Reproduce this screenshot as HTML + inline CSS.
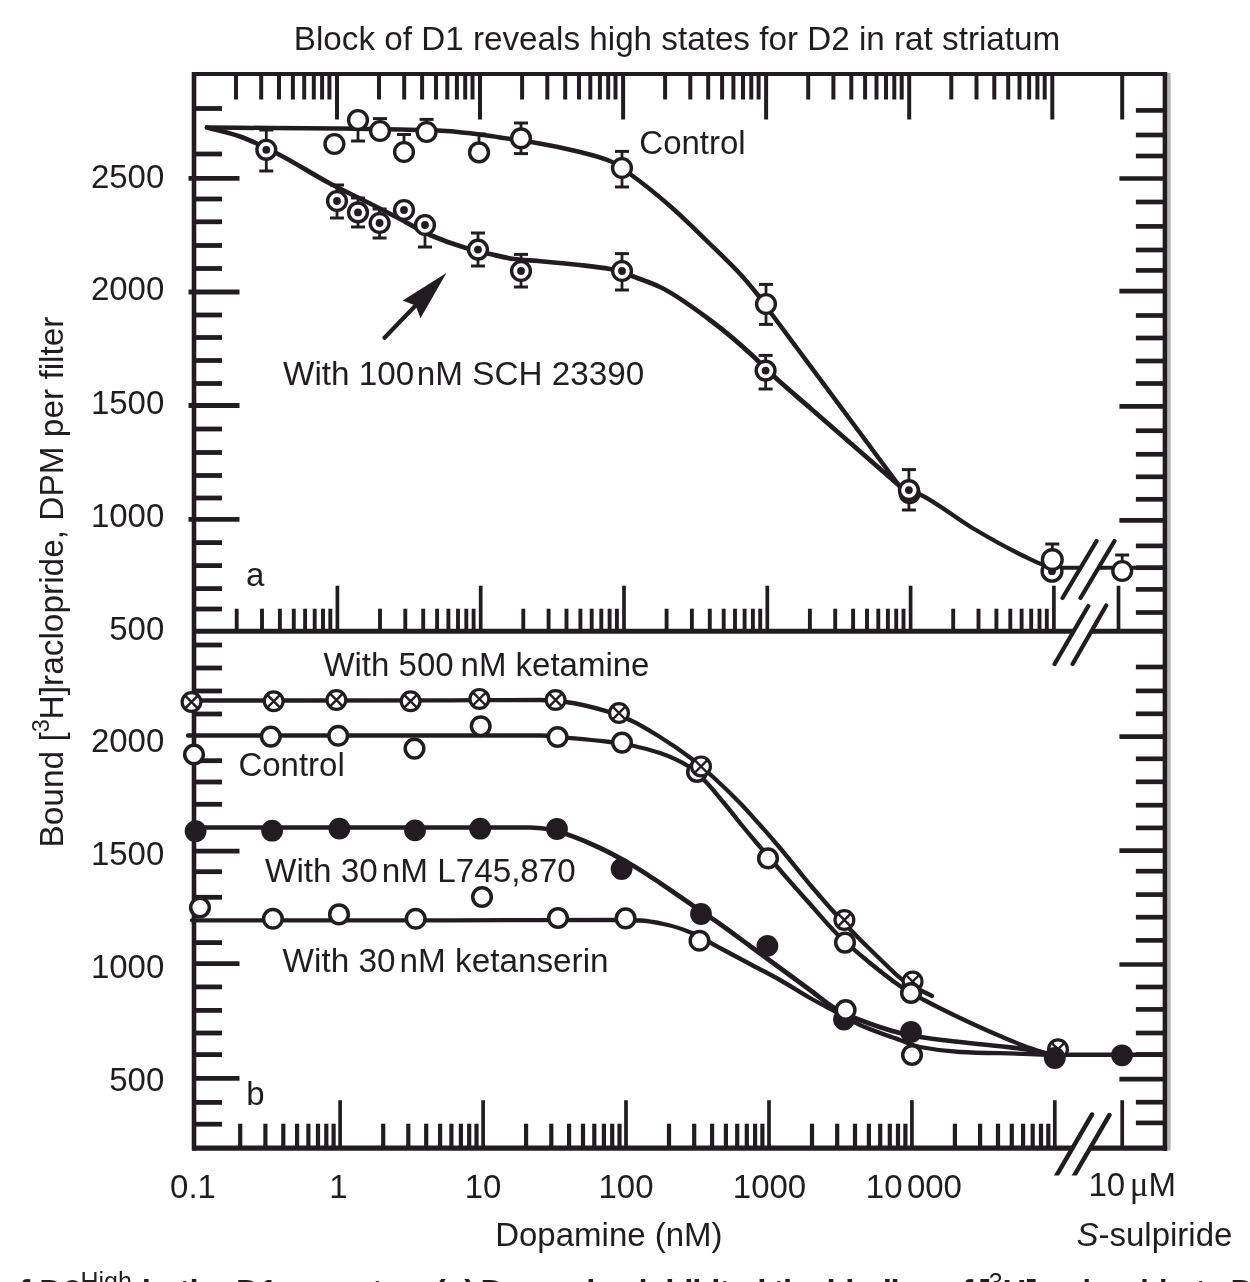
<!DOCTYPE html>
<html><head><meta charset="utf-8"><title>Block of D1 reveals high states for D2 in rat striatum</title>
<style>
html,body{margin:0;padding:0;background:#fff;}
body{width:1250px;height:1282px;overflow:hidden;font-family:"Liberation Sans",sans-serif;}
svg{display:block;}
</style></head>
<body>
<svg width="1250" height="1282" viewBox="0 0 1250 1282">
<defs><filter id="soft" x="0" y="0" width="100%" height="100%" filterUnits="userSpaceOnUse" primitiveUnits="userSpaceOnUse"><feGaussianBlur stdDeviation="0.55"/></filter></defs>
<rect width="1250" height="1282" fill="#fff"/>
<g filter="url(#soft)">
<g stroke="#231f20" fill="none" stroke-linecap="butt">
<path d="M194.0,72.0 V1150.4" stroke-width="4.6"/>
<path d="M1168.8000000000002,73.0 V1150.4" stroke-width="3.6" stroke="#b4b4b4"/>
<path d="M1164.9,72.0 V1150.8" stroke-width="4.5"/>
<path d="M192.0,74.0 H1167.1000000000001" stroke-width="4.2"/>
<path d="M192.0,631.2 H1164.9" stroke-width="4.9"/>
<path d="M192.0,1148.2 H1167.1000000000001" stroke-width="5.3"/>
</g>
<g stroke="#231f20" stroke-width="4.8" stroke-linecap="butt">
<path d="M194.0,108.5 H222.0"/>
<path d="M194.0,154.0 H222.0"/>
<path d="M188.5,178.4 H239.5"/>
<path d="M194.0,199.0 H222.0"/>
<path d="M194.0,221.8 H222.0"/>
<path d="M194.0,245.5 H222.0"/>
<path d="M194.0,268.5 H222.0"/>
<path d="M188.5,292.0 H239.5"/>
<path d="M194.0,315.0 H222.0"/>
<path d="M194.0,337.5 H222.0"/>
<path d="M194.0,360.5 H222.0"/>
<path d="M194.0,383.5 H222.0"/>
<path d="M188.5,405.5 H239.5"/>
<path d="M194.0,429.0 H222.0"/>
<path d="M194.0,452.5 H222.0"/>
<path d="M194.0,475.5 H222.0"/>
<path d="M194.0,498.0 H222.0"/>
<path d="M188.5,519.4 H239.5"/>
<path d="M194.0,542.6 H222.0"/>
<path d="M194.0,565.6 H222.0"/>
<path d="M194.0,588.6 H222.0"/>
<path d="M194.0,609.0 H222.0"/>
<path d="M194.0,645.0 H222.0"/>
<path d="M194.0,668.0 H222.0"/>
<path d="M194.0,691.0 H222.0"/>
<path d="M194.0,714.0 H222.0"/>
<path d="M194.0,760.7 H222.0"/>
<path d="M194.0,782.0 H222.0"/>
<path d="M194.0,804.3 H222.0"/>
<path d="M194.0,851.2 H239.5"/>
<path d="M194.0,871.7 H222.0"/>
<path d="M194.0,897.3 H222.0"/>
<path d="M194.0,942.6 H222.0"/>
<path d="M194.0,963.6 H239.5"/>
<path d="M194.0,986.9 H222.0"/>
<path d="M194.0,1010.4 H222.0"/>
<path d="M194.0,1033.0 H222.0"/>
<path d="M194.0,1054.6 H222.0"/>
<path d="M194.0,1078.4 H239.5"/>
<path d="M194.0,1102.4 H222.0"/>
<path d="M194.0,1124.2 H222.0"/>
</g>
<g stroke="#231f20" stroke-width="4.7" stroke-linecap="butt">
<path d="M1135.9,110.4 H1164.9"/>
<path d="M1135.9,135.0 H1164.9"/>
<path d="M1135.9,156.0 H1164.9"/>
<path d="M1119.4,178.5 H1164.9"/>
<path d="M1135.9,202.0 H1164.9"/>
<path d="M1135.9,226.4 H1164.9"/>
<path d="M1135.9,250.0 H1164.9"/>
<path d="M1135.9,270.4 H1164.9"/>
<path d="M1119.4,291.2 H1164.9"/>
<path d="M1135.9,315.5 H1164.9"/>
<path d="M1135.9,338.0 H1164.9"/>
<path d="M1135.9,361.0 H1164.9"/>
<path d="M1135.9,383.5 H1164.9"/>
<path d="M1119.4,406.4 H1164.9"/>
<path d="M1135.9,430.7 H1164.9"/>
<path d="M1135.9,454.3 H1164.9"/>
<path d="M1135.9,476.8 H1164.9"/>
<path d="M1135.9,499.3 H1164.9"/>
<path d="M1119.4,520.3 H1164.9"/>
<path d="M1135.9,545.9 H1164.9"/>
<path d="M1135.9,567.7 H1164.9"/>
<path d="M1135.9,589.4 H1164.9"/>
<path d="M1135.9,612.5 H1164.9"/>
<path d="M1135.9,667.0 H1164.9"/>
<path d="M1135.9,690.9 H1164.9"/>
<path d="M1135.9,713.8 H1164.9"/>
<path d="M1119.4,736.6 H1164.9"/>
<path d="M1135.9,758.8 H1164.9"/>
<path d="M1135.9,781.8 H1164.9"/>
<path d="M1135.9,805.2 H1164.9"/>
<path d="M1135.9,827.9 H1164.9"/>
<path d="M1119.4,850.6 H1164.9"/>
<path d="M1135.9,871.2 H1164.9"/>
<path d="M1135.9,894.6 H1164.9"/>
<path d="M1135.9,917.2 H1164.9"/>
<path d="M1135.9,940.4 H1164.9"/>
<path d="M1119.4,964.5 H1164.9"/>
<path d="M1135.9,987.0 H1164.9"/>
<path d="M1135.9,1009.4 H1164.9"/>
<path d="M1135.9,1033.0 H1164.9"/>
<path d="M1135.9,1054.4 H1164.9"/>
<path d="M1119.4,1079.2 H1164.9"/>
<path d="M1135.9,1102.2 H1164.9"/>
<path d="M1135.9,1122.9 H1164.9"/>
</g>
<g stroke="#231f20" stroke-linecap="butt">
<path d="M236.0,74.0 V99.5" stroke-width="4.0"/>
<path d="M261.2,74.0 V99.5" stroke-width="4.0"/>
<path d="M279.0,74.0 V99.5" stroke-width="4.0"/>
<path d="M292.9,74.0 V99.5" stroke-width="4.0"/>
<path d="M304.2,74.0 V99.5" stroke-width="4.0"/>
<path d="M313.8,74.0 V99.5" stroke-width="4.0"/>
<path d="M322.1,74.0 V99.5" stroke-width="4.0"/>
<path d="M329.4,74.0 V99.5" stroke-width="4.0"/>
<path d="M337.0,74.0 V119.5" stroke-width="4.0"/>
<path d="M379.0,74.0 V99.5" stroke-width="4.0"/>
<path d="M404.2,74.0 V99.5" stroke-width="4.0"/>
<path d="M422.1,74.0 V99.5" stroke-width="4.0"/>
<path d="M436.0,74.0 V99.5" stroke-width="4.0"/>
<path d="M447.3,74.0 V99.5" stroke-width="4.0"/>
<path d="M456.9,74.0 V99.5" stroke-width="4.0"/>
<path d="M465.2,74.0 V99.5" stroke-width="4.0"/>
<path d="M472.5,74.0 V99.5" stroke-width="4.0"/>
<path d="M480.0,74.0 V119.5" stroke-width="4.0"/>
<path d="M522.1,74.0 V99.5" stroke-width="4.0"/>
<path d="M547.3,74.0 V99.5" stroke-width="4.0"/>
<path d="M565.2,74.0 V99.5" stroke-width="4.0"/>
<path d="M579.0,74.0 V99.5" stroke-width="4.0"/>
<path d="M590.3,74.0 V99.5" stroke-width="4.0"/>
<path d="M599.9,74.0 V99.5" stroke-width="4.0"/>
<path d="M608.2,74.0 V99.5" stroke-width="4.0"/>
<path d="M615.5,74.0 V99.5" stroke-width="4.0"/>
<path d="M623.1,74.0 V119.5" stroke-width="4.0"/>
<path d="M665.1,74.0 V99.5" stroke-width="4.0"/>
<path d="M690.3,74.0 V99.5" stroke-width="4.0"/>
<path d="M708.2,74.0 V99.5" stroke-width="4.0"/>
<path d="M722.1,74.0 V99.5" stroke-width="4.0"/>
<path d="M733.4,74.0 V99.5" stroke-width="4.0"/>
<path d="M743.0,74.0 V99.5" stroke-width="4.0"/>
<path d="M751.3,74.0 V99.5" stroke-width="4.0"/>
<path d="M758.6,74.0 V99.5" stroke-width="4.0"/>
<path d="M766.1,74.0 V119.5" stroke-width="4.0"/>
<path d="M808.2,74.0 V99.5" stroke-width="4.0"/>
<path d="M833.4,74.0 V99.5" stroke-width="4.0"/>
<path d="M851.3,74.0 V99.5" stroke-width="4.0"/>
<path d="M865.1,74.0 V99.5" stroke-width="4.0"/>
<path d="M876.5,74.0 V99.5" stroke-width="4.0"/>
<path d="M886.0,74.0 V99.5" stroke-width="4.0"/>
<path d="M894.3,74.0 V99.5" stroke-width="4.0"/>
<path d="M901.7,74.0 V99.5" stroke-width="4.0"/>
<path d="M909.2,74.0 V119.5" stroke-width="4.0"/>
<path d="M951.3,74.0 V99.5" stroke-width="4.0"/>
<path d="M976.5,74.0 V99.5" stroke-width="4.0"/>
<path d="M994.3,74.0 V99.5" stroke-width="4.0"/>
<path d="M1008.2,74.0 V99.5" stroke-width="4.0"/>
<path d="M1019.5,74.0 V99.5" stroke-width="4.0"/>
<path d="M1029.1,74.0 V99.5" stroke-width="4.0"/>
<path d="M1037.4,74.0 V99.5" stroke-width="4.0"/>
<path d="M1044.7,74.0 V99.5" stroke-width="4.0"/>
<path d="M1052.3,74.0 V119.5" stroke-width="4.0"/>
<path d="M1122.2,74.0 V119.5" stroke-width="4.0"/>
</g>
<g stroke="#231f20" stroke-linecap="butt">
<path d="M236.7,631.2 V608.7" stroke-width="3.9"/>
<path d="M262.0,631.2 V608.7" stroke-width="3.9"/>
<path d="M279.9,631.2 V608.7" stroke-width="3.9"/>
<path d="M293.8,631.2 V608.7" stroke-width="3.9"/>
<path d="M305.1,631.2 V608.7" stroke-width="3.9"/>
<path d="M314.7,631.2 V608.7" stroke-width="3.9"/>
<path d="M323.0,631.2 V608.7" stroke-width="3.9"/>
<path d="M330.3,631.2 V608.7" stroke-width="3.9"/>
<path d="M337.4,631.2 V585.7" stroke-width="3.7"/>
<path d="M380.0,631.2 V608.7" stroke-width="3.9"/>
<path d="M405.3,631.2 V608.7" stroke-width="3.9"/>
<path d="M423.2,631.2 V608.7" stroke-width="3.9"/>
<path d="M437.1,631.2 V608.7" stroke-width="3.9"/>
<path d="M448.4,631.2 V608.7" stroke-width="3.9"/>
<path d="M458.0,631.2 V608.7" stroke-width="3.9"/>
<path d="M466.3,631.2 V608.7" stroke-width="3.9"/>
<path d="M473.6,631.2 V608.7" stroke-width="3.9"/>
<path d="M480.7,631.2 V585.7" stroke-width="3.7"/>
<path d="M523.3,631.2 V608.7" stroke-width="3.9"/>
<path d="M548.6,631.2 V608.7" stroke-width="3.9"/>
<path d="M566.5,631.2 V608.7" stroke-width="3.9"/>
<path d="M580.4,631.2 V608.7" stroke-width="3.9"/>
<path d="M591.7,631.2 V608.7" stroke-width="3.9"/>
<path d="M601.3,631.2 V608.7" stroke-width="3.9"/>
<path d="M609.6,631.2 V608.7" stroke-width="3.9"/>
<path d="M616.9,631.2 V608.7" stroke-width="3.9"/>
<path d="M624.0,631.2 V585.7" stroke-width="3.7"/>
<path d="M666.6,631.2 V608.7" stroke-width="3.9"/>
<path d="M691.9,631.2 V608.7" stroke-width="3.9"/>
<path d="M709.8,631.2 V608.7" stroke-width="3.9"/>
<path d="M723.7,631.2 V608.7" stroke-width="3.9"/>
<path d="M735.0,631.2 V608.7" stroke-width="3.9"/>
<path d="M744.6,631.2 V608.7" stroke-width="3.9"/>
<path d="M752.9,631.2 V608.7" stroke-width="3.9"/>
<path d="M760.2,631.2 V608.7" stroke-width="3.9"/>
<path d="M767.3,631.2 V585.7" stroke-width="3.7"/>
<path d="M809.9,631.2 V608.7" stroke-width="3.9"/>
<path d="M835.2,631.2 V608.7" stroke-width="3.9"/>
<path d="M853.1,631.2 V608.7" stroke-width="3.9"/>
<path d="M867.0,631.2 V608.7" stroke-width="3.9"/>
<path d="M878.3,631.2 V608.7" stroke-width="3.9"/>
<path d="M887.9,631.2 V608.7" stroke-width="3.9"/>
<path d="M896.2,631.2 V608.7" stroke-width="3.9"/>
<path d="M903.5,631.2 V608.7" stroke-width="3.9"/>
<path d="M910.6,631.2 V585.7" stroke-width="3.7"/>
<path d="M953.2,631.2 V608.7" stroke-width="3.9"/>
<path d="M978.5,631.2 V608.7" stroke-width="3.9"/>
<path d="M996.4,631.2 V608.7" stroke-width="3.9"/>
<path d="M1010.3,631.2 V608.7" stroke-width="3.9"/>
<path d="M1021.6,631.2 V608.7" stroke-width="3.9"/>
<path d="M1031.2,631.2 V608.7" stroke-width="3.9"/>
<path d="M1039.5,631.2 V608.7" stroke-width="3.9"/>
<path d="M1046.8,631.2 V608.7" stroke-width="3.9"/>
<path d="M1053.9,631.2 V585.7" stroke-width="3.7"/>
<path d="M1118.5,631.2 V585.7" stroke-width="3.7"/>
</g>
<g stroke="#231f20" stroke-linecap="butt">
<path d="M240.2,1148.2 V1123.7" stroke-width="4.2"/>
<path d="M265.4,1148.2 V1123.7" stroke-width="4.2"/>
<path d="M283.3,1148.2 V1123.7" stroke-width="4.2"/>
<path d="M297.1,1148.2 V1123.7" stroke-width="4.2"/>
<path d="M308.4,1148.2 V1123.7" stroke-width="4.2"/>
<path d="M318.0,1148.2 V1123.7" stroke-width="4.2"/>
<path d="M326.3,1148.2 V1123.7" stroke-width="4.2"/>
<path d="M333.6,1148.2 V1123.7" stroke-width="4.2"/>
<path d="M340.1,1148.2 V1100.2" stroke-width="3.7"/>
<path d="M383.2,1148.2 V1123.7" stroke-width="4.2"/>
<path d="M408.3,1148.2 V1123.7" stroke-width="4.2"/>
<path d="M426.2,1148.2 V1123.7" stroke-width="4.2"/>
<path d="M440.1,1148.2 V1123.7" stroke-width="4.2"/>
<path d="M451.4,1148.2 V1123.7" stroke-width="4.2"/>
<path d="M460.9,1148.2 V1123.7" stroke-width="4.2"/>
<path d="M469.2,1148.2 V1123.7" stroke-width="4.2"/>
<path d="M476.5,1148.2 V1123.7" stroke-width="4.2"/>
<path d="M483.1,1148.2 V1100.2" stroke-width="3.7"/>
<path d="M526.1,1148.2 V1123.7" stroke-width="4.2"/>
<path d="M551.3,1148.2 V1123.7" stroke-width="4.2"/>
<path d="M569.1,1148.2 V1123.7" stroke-width="4.2"/>
<path d="M583.0,1148.2 V1123.7" stroke-width="4.2"/>
<path d="M594.3,1148.2 V1123.7" stroke-width="4.2"/>
<path d="M603.9,1148.2 V1123.7" stroke-width="4.2"/>
<path d="M612.2,1148.2 V1123.7" stroke-width="4.2"/>
<path d="M619.5,1148.2 V1123.7" stroke-width="4.2"/>
<path d="M626.0,1148.2 V1100.2" stroke-width="3.7"/>
<path d="M669.0,1148.2 V1123.7" stroke-width="4.2"/>
<path d="M694.2,1148.2 V1123.7" stroke-width="4.2"/>
<path d="M712.1,1148.2 V1123.7" stroke-width="4.2"/>
<path d="M725.9,1148.2 V1123.7" stroke-width="4.2"/>
<path d="M737.2,1148.2 V1123.7" stroke-width="4.2"/>
<path d="M746.8,1148.2 V1123.7" stroke-width="4.2"/>
<path d="M755.1,1148.2 V1123.7" stroke-width="4.2"/>
<path d="M762.4,1148.2 V1123.7" stroke-width="4.2"/>
<path d="M769.0,1148.2 V1100.2" stroke-width="3.7"/>
<path d="M812.0,1148.2 V1123.7" stroke-width="4.2"/>
<path d="M837.2,1148.2 V1123.7" stroke-width="4.2"/>
<path d="M855.0,1148.2 V1123.7" stroke-width="4.2"/>
<path d="M868.9,1148.2 V1123.7" stroke-width="4.2"/>
<path d="M880.2,1148.2 V1123.7" stroke-width="4.2"/>
<path d="M889.8,1148.2 V1123.7" stroke-width="4.2"/>
<path d="M898.0,1148.2 V1123.7" stroke-width="4.2"/>
<path d="M905.4,1148.2 V1123.7" stroke-width="4.2"/>
<path d="M911.9,1148.2 V1100.2" stroke-width="3.7"/>
<path d="M954.9,1148.2 V1123.7" stroke-width="4.2"/>
<path d="M980.1,1148.2 V1123.7" stroke-width="4.2"/>
<path d="M998.0,1148.2 V1123.7" stroke-width="4.2"/>
<path d="M1011.8,1148.2 V1123.7" stroke-width="4.2"/>
<path d="M1023.1,1148.2 V1123.7" stroke-width="4.2"/>
<path d="M1032.7,1148.2 V1123.7" stroke-width="4.2"/>
<path d="M1041.0,1148.2 V1123.7" stroke-width="4.2"/>
<path d="M1048.3,1148.2 V1123.7" stroke-width="4.2"/>
<path d="M1054.8,1148.2 V1100.2" stroke-width="3.7"/>
<path d="M1122.2,1148.2 V1100.2" stroke-width="3.7"/>
</g>
<g font-family="Liberation Sans, sans-serif" font-size="33" fill="#231f20">
<text x="677" y="50" text-anchor="middle" textLength="766.5" lengthAdjust="spacingAndGlyphs">Block of D1 reveals high states for D2 in rat striatum</text>
<text x="164.3" y="187.6" text-anchor="end" >2500</text>
<text x="164.3" y="300.2" text-anchor="end" >2000</text>
<text x="164.3" y="413.7" text-anchor="end" >1500</text>
<text x="164.3" y="527.2" text-anchor="end" >1000</text>
<text x="164.3" y="640.0" text-anchor="end" >500</text>
<text x="164.3" y="751.8" text-anchor="end" >2000</text>
<text x="164.3" y="864.6" text-anchor="end" >1500</text>
<text x="164.3" y="978.0" text-anchor="end" >1000</text>
<text x="164.3" y="1090.6" text-anchor="end" >500</text>
<text x="193" y="1198" text-anchor="middle" >0.1</text>
<text x="338.5" y="1198" text-anchor="middle" >1</text>
<text x="483" y="1198" text-anchor="middle" >10</text>
<text x="626" y="1198" text-anchor="middle" >100</text>
<text x="769.5" y="1198" text-anchor="middle" >1000</text>
<text x="865.8" y="1198" text-anchor="start" >10<tspan dx="4.4">000</tspan></text>
<text x="1088.5" y="1196" text-anchor="start" >10<tspan dx="4.5" font-family="Liberation Serif, serif" font-size="35">&#956;</tspan>M</text>
<text x="495.2" y="1246.2" text-anchor="start" >Dopamine (nM)</text>
<text x="1076.5" y="1246.2" text-anchor="start" ><tspan font-style="italic">S</tspan>-sulpiride</text>
<text x="639.3" y="154.3" text-anchor="start" >Control</text>
<text x="283.0" y="384.5" text-anchor="start" font-size="33.25">With 100<tspan dx="2.6">nM SCH 23390</tspan></text>
<text x="246.0" y="586" text-anchor="start" >a</text>
<text x="323.4" y="675.8" text-anchor="start" >With 500<tspan dx="6.9">nM ketamine</tspan></text>
<text x="238.4" y="776" text-anchor="start" >Control</text>
<text x="265.0" y="881.9" text-anchor="start" font-size="33.25">With 30<tspan dx="4.0">nM L745,870</tspan></text>
<text x="282.6" y="972.2" text-anchor="start" font-size="33.3">With 30<tspan dx="4.0">nM ketanserin</tspan></text>
<text x="246.3" y="1104.5" text-anchor="start" >b</text>
<text transform="translate(62.6,847.5) rotate(-90)" textLength="531" lengthAdjust="spacingAndGlyphs">Bound [<tspan font-size="23" dy="-14">3</tspan><tspan dy="14">H]raclopride, DPM per filter</tspan></text>
<text x="-1.0" y="1303.2" font-weight="bold" font-size="33" >of D2</text>
<text x="80.4" y="1290.0" font-size="25">High</text>
<text x="141.8" y="1303.2" font-weight="bold" font-size="33" textLength="280" lengthAdjust="spacing" >in the D1 receptor.</text>
<text x="434.8" y="1303.2" font-weight="bold" font-size="33" >(a)</text>
<text x="480.4" y="1303.2" font-weight="bold" font-size="33" textLength="286" lengthAdjust="spacing" >Dopamine inhibited</text>
<text x="773.3" y="1303.2" font-weight="bold" font-size="33" textLength="200" lengthAdjust="spacing" >the binding of</text>
<text x="978.6" y="1303.2" font-weight="bold" font-size="33" >[</text>
<text x="988.8" y="1290.6" font-size="25">3</text>
<text x="1002.6" y="1303.2" font-weight="bold" font-size="33" >H]</text>
<text x="1036.5" y="1303.2" font-weight="bold" font-size="33" textLength="148" lengthAdjust="spacingAndGlyphs">raclopride</text>
<text x="1194.9" y="1303.2" font-weight="bold" font-size="33" >to</text>
<text x="1230.6" y="1303.2" font-weight="bold" font-size="33" >D2</text>
</g>
<path d="M207.0,127.5 C228.0,127.7 249.0,127.8 270.0,128.0 C293.3,128.2 316.7,128.3 340.0,128.5 C360.0,128.7 380.0,129.1 400.0,129.5 C412.7,129.8 425.3,130.0 438.0,130.5 C453.3,131.1 468.7,133.1 484.0,135.0 C492.7,136.1 501.3,137.7 510.0,139.0 C518.0,140.2 526.0,141.2 534.0,142.5 C549.3,145.1 564.7,148.2 580.0,152.0 C590.0,154.5 600.0,156.8 610.0,161.0 C616.7,163.8 623.3,169.3 630.0,174.0 C643.3,183.5 656.7,194.4 670.0,206.0 C683.3,217.6 696.7,231.0 710.0,244.0 C720.7,254.4 731.3,264.3 742.0,276.0 C750.0,284.8 758.0,295.3 766.0,305.0" fill="none" stroke="#231f20" stroke-width="4.5" stroke-linecap="round" stroke-linejoin="round"/>
<path d="M768,309 L902,489.5" stroke="#231f20" stroke-width="4.5" stroke-linecap="round" fill="none"/>
<path d="M207.0,127.5 C218.0,130.5 229.0,132.8 240.0,136.5 C252.7,140.8 265.3,147.6 278.0,154.0 C295.3,162.8 312.7,174.3 330.0,183.5 C343.3,190.6 356.7,196.7 370.0,203.5 C380.0,208.6 390.0,213.8 400.0,219.0 C410.0,224.2 420.0,230.7 430.0,235.0 C442.0,240.2 454.0,244.5 466.0,248.0 C474.0,250.3 482.0,252.2 490.0,254.0 C498.0,255.8 506.0,258.0 514.0,259.0 C522.0,260.0 530.0,260.3 538.0,261.0 C552.0,262.2 566.0,263.4 580.0,265.0 C590.0,266.1 600.0,267.1 610.0,269.0 C620.0,270.9 630.0,275.3 640.0,279.0 C646.7,281.4 653.3,283.8 660.0,287.0 C676.7,295.0 693.3,307.6 710.0,320.0 C724.7,330.9 739.3,343.4 754.0,357.0 C758.0,360.7 762.0,365.2 766.0,369.0 C770.0,372.8 774.0,376.4 778.0,380.0 C788.3,389.3 798.7,398.0 809.0,407.0 C819.3,416.0 829.7,425.0 840.0,434.0 C850.3,443.0 860.7,452.0 871.0,461.0 C881.3,470.0 891.7,479.0 902.0,488.0" fill="none" stroke="#231f20" stroke-width="4.7" stroke-linecap="round" stroke-linejoin="round"/>
<path d="M909.0,490.0 C913.0,491.7 917.0,493.1 921.0,495.0 C938.1,503.3 955.3,517.9 972.4,528.0 C989.5,538.1 1006.5,547.8 1023.6,556.0 C1030.4,559.3 1037.2,563.0 1044.0,565.0 C1048.0,566.2 1052.0,566.8 1056.0,567.7" fill="none" stroke="#231f20" stroke-width="4.3" stroke-linecap="round" stroke-linejoin="round"/>
<path d="M1050,567.7 H1165" stroke="#231f20" stroke-width="4.0" fill="none"/>
<path d="M358,120 V141" stroke="#231f20" stroke-width="2.8" fill="none"/>
<path d="M351,141 H365" stroke="#231f20" stroke-width="3.0" fill="none"/>
<path d="M380,118.6 V131" stroke="#231f20" stroke-width="2.8" fill="none"/>
<path d="M373,118.6 H387" stroke="#231f20" stroke-width="3.0" fill="none"/>
<path d="M404,134.5 V152" stroke="#231f20" stroke-width="2.8" fill="none"/>
<path d="M397,134.5 H411" stroke="#231f20" stroke-width="3.0" fill="none"/>
<path d="M426.6,119.4 V132" stroke="#231f20" stroke-width="2.8" fill="none"/>
<path d="M419.6,119.4 H433.6" stroke="#231f20" stroke-width="3.0" fill="none"/>
<path d="M479,134 V152.4" stroke="#231f20" stroke-width="2.8" fill="none"/>
<path d="M472,134 H486" stroke="#231f20" stroke-width="3.0" fill="none"/>
<path d="M521,123 V153.6" stroke="#231f20" stroke-width="2.8" fill="none"/>
<path d="M514,123 H528" stroke="#231f20" stroke-width="3.0" fill="none"/>
<path d="M514,153.6 H528" stroke="#231f20" stroke-width="3.0" fill="none"/>
<path d="M622,151.4 V187" stroke="#231f20" stroke-width="2.8" fill="none"/>
<path d="M615,151.4 H629" stroke="#231f20" stroke-width="3.0" fill="none"/>
<path d="M615,187 H629" stroke="#231f20" stroke-width="3.0" fill="none"/>
<path d="M766,284.4 V324.4" stroke="#231f20" stroke-width="2.8" fill="none"/>
<path d="M759,284.4 H773" stroke="#231f20" stroke-width="3.0" fill="none"/>
<path d="M759,324.4 H773" stroke="#231f20" stroke-width="3.0" fill="none"/>
<path d="M1052.3,544.0 V559.6" stroke="#231f20" stroke-width="2.8" fill="none"/>
<path d="M1045.3,544.0 H1059.3" stroke="#231f20" stroke-width="3.0" fill="none"/>
<path d="M1122.2,555 V571" stroke="#231f20" stroke-width="2.8" fill="none"/>
<path d="M1115.2,555 H1129.2" stroke="#231f20" stroke-width="3.0" fill="none"/>
<path d="M266.3,130 V171" stroke="#231f20" stroke-width="2.8" fill="none"/>
<path d="M259.3,130 H273.3" stroke="#231f20" stroke-width="3.0" fill="none"/>
<path d="M259.3,171 H273.3" stroke="#231f20" stroke-width="3.0" fill="none"/>
<path d="M337,185 V218" stroke="#231f20" stroke-width="2.8" fill="none"/>
<path d="M330,185 H344" stroke="#231f20" stroke-width="3.0" fill="none"/>
<path d="M330,218 H344" stroke="#231f20" stroke-width="3.0" fill="none"/>
<path d="M358,198 V227" stroke="#231f20" stroke-width="2.8" fill="none"/>
<path d="M351,198 H365" stroke="#231f20" stroke-width="3.0" fill="none"/>
<path d="M351,227 H365" stroke="#231f20" stroke-width="3.0" fill="none"/>
<path d="M379.6,209 V238" stroke="#231f20" stroke-width="2.8" fill="none"/>
<path d="M372.6,209 H386.6" stroke="#231f20" stroke-width="3.0" fill="none"/>
<path d="M372.6,238 H386.6" stroke="#231f20" stroke-width="3.0" fill="none"/>
<path d="M425,225 V247" stroke="#231f20" stroke-width="2.8" fill="none"/>
<path d="M418,247 H432" stroke="#231f20" stroke-width="3.0" fill="none"/>
<path d="M478,233 V266" stroke="#231f20" stroke-width="2.8" fill="none"/>
<path d="M471,233 H485" stroke="#231f20" stroke-width="3.0" fill="none"/>
<path d="M471,266 H485" stroke="#231f20" stroke-width="3.0" fill="none"/>
<path d="M521,254.4 V287" stroke="#231f20" stroke-width="2.8" fill="none"/>
<path d="M514,254.4 H528" stroke="#231f20" stroke-width="3.0" fill="none"/>
<path d="M514,287 H528" stroke="#231f20" stroke-width="3.0" fill="none"/>
<path d="M622,253.6 V290" stroke="#231f20" stroke-width="2.8" fill="none"/>
<path d="M615,253.6 H629" stroke="#231f20" stroke-width="3.0" fill="none"/>
<path d="M615,290 H629" stroke="#231f20" stroke-width="3.0" fill="none"/>
<path d="M765.6,355.4 V389" stroke="#231f20" stroke-width="2.8" fill="none"/>
<path d="M758.6,355.4 H772.6" stroke="#231f20" stroke-width="3.0" fill="none"/>
<path d="M758.6,389 H772.6" stroke="#231f20" stroke-width="3.0" fill="none"/>
<path d="M908.9,469.6 V510" stroke="#231f20" stroke-width="2.8" fill="none"/>
<path d="M901.9,469.6 H915.9" stroke="#231f20" stroke-width="3.0" fill="none"/>
<path d="M901.9,510 H915.9" stroke="#231f20" stroke-width="3.0" fill="none"/>
<circle cx="909.6" cy="493.2" r="9.4" fill="#fff" stroke="#231f20" stroke-width="3.4"/>
<circle cx="1052.0" cy="571.2" r="9.9" fill="#fff" stroke="#231f20" stroke-width="3.4"/>
<circle cx="1052.0" cy="571.2" r="3.9" fill="#231f20"/>
<circle cx="334.4" cy="144" r="9.4" fill="#fff" stroke="#231f20" stroke-width="3.4"/>
<circle cx="358" cy="120" r="9.4" fill="#fff" stroke="#231f20" stroke-width="3.4"/>
<circle cx="380" cy="131" r="9.4" fill="#fff" stroke="#231f20" stroke-width="3.4"/>
<circle cx="404" cy="152" r="9.4" fill="#fff" stroke="#231f20" stroke-width="3.4"/>
<circle cx="426.6" cy="132" r="9.4" fill="#fff" stroke="#231f20" stroke-width="3.4"/>
<circle cx="479" cy="152.4" r="9.4" fill="#fff" stroke="#231f20" stroke-width="3.4"/>
<circle cx="521" cy="138.4" r="9.4" fill="#fff" stroke="#231f20" stroke-width="3.4"/>
<circle cx="622" cy="168" r="9.4" fill="#fff" stroke="#231f20" stroke-width="3.4"/>
<circle cx="766" cy="304" r="9.4" fill="#fff" stroke="#231f20" stroke-width="3.4"/>
<circle cx="1052.3" cy="559.6" r="9.9" fill="#fff" stroke="#231f20" stroke-width="3.4"/>
<circle cx="1122.2" cy="571" r="9.4" fill="#fff" stroke="#231f20" stroke-width="3.4"/>
<circle cx="266.3" cy="149.8" r="9.4" fill="#fff" stroke="#231f20" stroke-width="3.4"/>
<circle cx="266.3" cy="149.8" r="3.9" fill="#231f20"/>
<circle cx="337" cy="201" r="9.4" fill="#fff" stroke="#231f20" stroke-width="3.4"/>
<circle cx="337" cy="201" r="3.9" fill="#231f20"/>
<circle cx="358" cy="212.4" r="9.4" fill="#fff" stroke="#231f20" stroke-width="3.4"/>
<circle cx="358" cy="212.4" r="3.9" fill="#231f20"/>
<circle cx="379.6" cy="223" r="9.4" fill="#fff" stroke="#231f20" stroke-width="3.4"/>
<circle cx="379.6" cy="223" r="3.9" fill="#231f20"/>
<circle cx="404" cy="210" r="9.4" fill="#fff" stroke="#231f20" stroke-width="3.4"/>
<circle cx="404" cy="210" r="3.9" fill="#231f20"/>
<circle cx="425" cy="225" r="9.4" fill="#fff" stroke="#231f20" stroke-width="3.4"/>
<circle cx="425" cy="225" r="3.9" fill="#231f20"/>
<circle cx="478" cy="249.6" r="9.4" fill="#fff" stroke="#231f20" stroke-width="3.4"/>
<circle cx="478" cy="249.6" r="3.9" fill="#231f20"/>
<circle cx="521" cy="271" r="9.4" fill="#fff" stroke="#231f20" stroke-width="3.4"/>
<circle cx="521" cy="271" r="3.9" fill="#231f20"/>
<circle cx="622" cy="271" r="9.4" fill="#fff" stroke="#231f20" stroke-width="3.4"/>
<circle cx="622" cy="271" r="3.9" fill="#231f20"/>
<circle cx="765.6" cy="370.6" r="9.4" fill="#fff" stroke="#231f20" stroke-width="3.4"/>
<circle cx="765.6" cy="370.6" r="3.9" fill="#231f20"/>
<circle cx="908.9" cy="490.1" r="9.4" fill="#fff" stroke="#231f20" stroke-width="3.4"/>
<circle cx="908.9" cy="490.1" r="3.9" fill="#231f20"/>
<path d="M384.5,337.8 L418,303" stroke="#231f20" stroke-width="4.2" stroke-linecap="round" fill="none"/>
<path d="M446.4,273 L402.7,300.4 L415.5,305.5 L420.5,318.2 Z" fill="#231f20"/>
<path d="M1084.5,560 L1102.5,560 L1093.5,575 L1075.5,575 Z" fill="#fff"/>
<path d="M1076.5,624 L1094.5,624 L1085.5,639 L1067.5,639 Z" fill="#fff"/>
<g stroke="#231f20" stroke-width="4.3" stroke-linecap="round" fill="none">
<path d="M1096.6,541 L1062.5,598"/><path d="M1114.5,541 L1080.5,598"/>
<path d="M1088.3,606 L1054.6,664"/><path d="M1106.2,605.5 L1072.6,664"/>
</g>
<path d="M188.0,700.5 C225.3,700.5 262.7,700.5 300.0,700.5 C350.0,700.5 400.0,700.4 450.0,700.3 C480.0,700.2 510.0,700.0 540.0,700.0 C548.7,700.0 557.3,701.0 566.0,702.0 C580.0,703.6 594.0,707.5 608.0,711.6 C615.3,713.8 622.7,716.7 630.0,720.0 C640.0,724.5 650.0,730.8 660.0,737.0 C670.7,743.6 681.3,750.8 692.0,759.0 C698.7,764.1 705.3,770.0 712.0,776.0 C721.3,784.4 730.7,793.4 740.0,803.0 C746.7,809.9 753.3,817.5 760.0,825.0 C766.7,832.5 773.3,840.1 780.0,848.0 C790.7,860.6 801.3,874.5 812.0,887.0 C822.7,899.5 833.3,911.7 844.0,923.0 C856.0,935.7 868.0,947.6 880.0,959.0 C888.0,966.6 896.0,975.6 904.0,981.0 C913.3,987.4 922.7,991.0 932.0,996.0" fill="none" stroke="#231f20" stroke-width="4.3" stroke-linecap="round" stroke-linejoin="round"/>
<path d="M188.0,735.5 C225.3,735.5 262.7,735.5 300.0,735.5 C350.0,735.5 400.0,735.5 450.0,735.5 C480.0,735.5 510.0,735.5 540.0,735.5 C548.7,735.5 557.3,736.8 566.0,737.6 C580.7,738.9 595.3,740.1 610.0,742.0 C618.0,743.0 626.0,744.4 634.0,746.0 C642.7,747.8 651.3,750.1 660.0,753.0 C669.3,756.2 678.7,760.2 688.0,766.0 C694.0,769.7 700.0,775.9 706.0,782.0 C712.0,788.1 718.0,795.8 724.0,803.0 C729.3,809.4 734.7,816.5 740.0,823.0 C745.0,829.1 750.0,835.1 755.0,841.0 C759.3,846.1 763.7,851.0 768.0,856.0 C772.0,860.6 776.0,865.4 780.0,870.0 C790.0,881.5 800.0,892.8 810.0,904.0 C818.7,913.7 827.3,924.4 836.0,933.0 C847.3,944.2 858.7,953.7 870.0,963.0 C880.0,971.2 890.0,979.1 900.0,986.0 C903.7,988.5 907.3,990.9 911.0,993.0 C915.3,995.5 919.7,997.7 924.0,1000.0 C936.0,1006.3 948.0,1012.3 960.0,1018.0 C973.3,1024.3 986.7,1030.4 1000.0,1036.0 C1010.0,1040.2 1020.0,1044.5 1030.0,1048.0 C1037.3,1050.6 1044.7,1052.7 1052.0,1055.0" fill="none" stroke="#231f20" stroke-width="4.3" stroke-linecap="round" stroke-linejoin="round"/>
<path d="M188.0,827.5 C225.3,827.5 262.7,827.5 300.0,827.5 C350.0,827.5 400.0,827.5 450.0,827.5 C476.7,827.5 503.3,827.5 530.0,827.5 C536.7,827.5 543.3,828.5 550.0,829.5 C555.3,830.3 560.7,832.3 566.0,834.0 C577.3,837.7 588.7,842.7 600.0,848.0 C610.7,853.0 621.3,858.8 632.0,865.0 C641.3,870.4 650.7,876.8 660.0,883.0 C670.7,890.1 681.3,897.7 692.0,905.0 C701.3,911.4 710.7,917.4 720.0,924.0 C730.0,931.0 740.0,938.7 750.0,946.0 C760.0,953.3 770.0,960.7 780.0,968.0 C790.0,975.3 800.0,982.7 810.0,990.0 C818.7,996.3 827.3,1004.1 836.0,1009.0 C844.0,1013.5 852.0,1016.9 860.0,1020.0 C873.3,1025.1 886.7,1029.8 900.0,1033.0 C906.7,1034.6 913.3,1035.9 920.0,1037.0 C933.3,1039.1 946.7,1040.4 960.0,1042.0 C983.3,1044.8 1006.7,1046.2 1030.0,1050.0 C1037.3,1051.2 1044.7,1053.3 1052.0,1055.0" fill="none" stroke="#231f20" stroke-width="4.7" stroke-linecap="round" stroke-linejoin="round"/>
<path d="M192.0,920.3 C228.0,920.3 264.0,920.3 300.0,920.3 C350.0,920.3 400.0,920.3 450.0,920.3 C503.7,920.3 557.3,920.0 611.0,920.0 C620.7,920.0 630.3,920.2 640.0,920.5 C649.3,920.8 658.7,923.0 668.0,925.0 C676.0,926.8 684.0,929.7 692.0,933.0 C701.3,936.8 710.7,943.0 720.0,948.0 C730.0,953.3 740.0,958.7 750.0,964.0 C760.0,969.3 770.0,974.4 780.0,980.0 C790.0,985.6 800.0,992.3 810.0,998.0 C818.7,1002.9 827.3,1007.3 836.0,1012.0 C844.0,1016.3 852.0,1021.4 860.0,1025.0 C873.3,1031.0 886.7,1035.2 900.0,1040.0 C906.7,1042.4 913.3,1045.7 920.0,1047.0 C933.3,1049.6 946.7,1051.3 960.0,1052.0 C983.3,1053.2 1006.7,1053.1 1030.0,1054.0 C1037.3,1054.3 1044.7,1054.7 1052.0,1055.0" fill="none" stroke="#231f20" stroke-width="4.3" stroke-linecap="round" stroke-linejoin="round"/>
<path d="M1048,1054.8 H1164" stroke="#231f20" stroke-width="4.4" fill="none"/>
<circle cx="200" cy="907.5" r="9.3" fill="#fff" stroke="#231f20" stroke-width="3.5"/>
<circle cx="272.9" cy="918.8" r="9.3" fill="#fff" stroke="#231f20" stroke-width="3.5"/>
<circle cx="339" cy="914.4" r="9.3" fill="#fff" stroke="#231f20" stroke-width="3.5"/>
<circle cx="415.7" cy="918.8" r="9.3" fill="#fff" stroke="#231f20" stroke-width="3.5"/>
<circle cx="482" cy="897" r="9.3" fill="#fff" stroke="#231f20" stroke-width="3.5"/>
<circle cx="558" cy="918" r="9.3" fill="#fff" stroke="#231f20" stroke-width="3.5"/>
<circle cx="625.6" cy="918.4" r="9.3" fill="#fff" stroke="#231f20" stroke-width="3.5"/>
<circle cx="699.5" cy="940.8" r="9.3" fill="#fff" stroke="#231f20" stroke-width="3.5"/>
<circle cx="194" cy="754.5" r="9.3" fill="#fff" stroke="#231f20" stroke-width="3.5"/>
<circle cx="270.8" cy="736.6" r="9.3" fill="#fff" stroke="#231f20" stroke-width="3.5"/>
<circle cx="338.2" cy="735.8" r="9.3" fill="#fff" stroke="#231f20" stroke-width="3.5"/>
<circle cx="414.5" cy="748.6" r="9.3" fill="#fff" stroke="#231f20" stroke-width="3.5"/>
<circle cx="480.7" cy="726.2" r="9.3" fill="#fff" stroke="#231f20" stroke-width="3.5"/>
<circle cx="557.6" cy="737" r="9.3" fill="#fff" stroke="#231f20" stroke-width="3.5"/>
<circle cx="622" cy="742.6" r="9.3" fill="#fff" stroke="#231f20" stroke-width="3.5"/>
<circle cx="697" cy="772" r="9.3" fill="#fff" stroke="#231f20" stroke-width="3.5"/>
<circle cx="768" cy="858.4" r="9.3" fill="#fff" stroke="#231f20" stroke-width="3.5"/>
<circle cx="191.5" cy="702" r="9.4" fill="#fff" stroke="#231f20" stroke-width="3.2"/>
<path d="M184.9,695.4 L198.1,708.6 M184.9,708.6 L198.1,695.4" stroke="#231f20" stroke-width="2.4" fill="none"/>
<circle cx="273.7" cy="701.3" r="9.4" fill="#fff" stroke="#231f20" stroke-width="3.2"/>
<path d="M267.1,694.7 L280.3,707.9 M267.1,707.9 L280.3,694.7" stroke="#231f20" stroke-width="2.4" fill="none"/>
<circle cx="336.4" cy="700" r="9.4" fill="#fff" stroke="#231f20" stroke-width="3.2"/>
<path d="M329.8,693.4 L343.0,706.6 M329.8,706.6 L343.0,693.4" stroke="#231f20" stroke-width="2.4" fill="none"/>
<circle cx="410.6" cy="701.3" r="9.4" fill="#fff" stroke="#231f20" stroke-width="3.2"/>
<path d="M404.0,694.7 L417.2,707.9 M404.0,707.9 L417.2,694.7" stroke="#231f20" stroke-width="2.4" fill="none"/>
<circle cx="479.4" cy="698.9" r="9.4" fill="#fff" stroke="#231f20" stroke-width="3.2"/>
<path d="M472.8,692.3 L486.0,705.5 M472.8,705.5 L486.0,692.3" stroke="#231f20" stroke-width="2.4" fill="none"/>
<circle cx="555.6" cy="700" r="9.4" fill="#fff" stroke="#231f20" stroke-width="3.2"/>
<path d="M549.0,693.4 L562.2,706.6 M549.0,706.6 L562.2,693.4" stroke="#231f20" stroke-width="2.4" fill="none"/>
<circle cx="619" cy="713" r="9.4" fill="#fff" stroke="#231f20" stroke-width="3.2"/>
<path d="M612.4,706.4 L625.6,719.6 M612.4,719.6 L625.6,706.4" stroke="#231f20" stroke-width="2.4" fill="none"/>
<circle cx="701" cy="766.4" r="9.4" fill="#fff" stroke="#231f20" stroke-width="3.2"/>
<path d="M694.4,759.8 L707.6,773.0 M694.4,773.0 L707.6,759.8" stroke="#231f20" stroke-width="2.4" fill="none"/>
<circle cx="844.4" cy="920" r="9.4" fill="#fff" stroke="#231f20" stroke-width="3.2"/>
<path d="M837.8,913.4 L851.0,926.6 M837.8,926.6 L851.0,913.4" stroke="#231f20" stroke-width="2.4" fill="none"/>
<circle cx="912.6" cy="981.6" r="9.4" fill="#fff" stroke="#231f20" stroke-width="3.2"/>
<path d="M906.0,975.0 L919.2,988.2 M906.0,988.2 L919.2,975.0" stroke="#231f20" stroke-width="2.4" fill="none"/>
<circle cx="1058" cy="1049.2" r="9.4" fill="#fff" stroke="#231f20" stroke-width="3.2"/>
<path d="M1051.4,1042.6 L1064.6,1055.8 M1051.4,1055.8 L1064.6,1042.6" stroke="#231f20" stroke-width="2.4" fill="none"/>
<circle cx="845" cy="942.6" r="9.3" fill="#fff" stroke="#231f20" stroke-width="3.5"/>
<circle cx="911" cy="993" r="9.3" fill="#fff" stroke="#231f20" stroke-width="3.5"/>
<circle cx="195.6" cy="831.2" r="10.9" fill="#231f20"/>
<circle cx="272.1" cy="830.7" r="10.9" fill="#231f20"/>
<circle cx="339.4" cy="828.6" r="10.9" fill="#231f20"/>
<circle cx="415" cy="830.4" r="10.9" fill="#231f20"/>
<circle cx="480.2" cy="828.7" r="10.9" fill="#231f20"/>
<circle cx="557" cy="829" r="10.9" fill="#231f20"/>
<circle cx="621.6" cy="869" r="10.9" fill="#231f20"/>
<circle cx="701" cy="914" r="10.9" fill="#231f20"/>
<circle cx="767.4" cy="945.9" r="10.9" fill="#231f20"/>
<circle cx="844" cy="1019.5" r="10.9" fill="#231f20"/>
<circle cx="911" cy="1032" r="10.9" fill="#231f20"/>
<circle cx="1054.8" cy="1058" r="10.9" fill="#231f20"/>
<circle cx="1122" cy="1055.3" r="10.9" fill="#231f20"/>
<circle cx="845.6" cy="1010" r="9.3" fill="#fff" stroke="#231f20" stroke-width="3.5"/>
<circle cx="912" cy="1055" r="9.3" fill="#fff" stroke="#231f20" stroke-width="3.5"/>
<path d="M1078.5,1140 L1096,1140 L1084,1158 L1066.5,1158 Z" fill="#fff"/>
<clipPath id="bk"><rect x="1040" y="1100" width="90" height="75.6"/></clipPath>
<g stroke="#231f20" stroke-width="4.5" stroke-linecap="round" fill="none" clip-path="url(#bk)">
<path d="M1092.0,1114.5 L1054.2,1179.5"/><path d="M1109.4,1115 L1071.9,1179.5"/>
</g>
</g>
</svg>
</body></html>
